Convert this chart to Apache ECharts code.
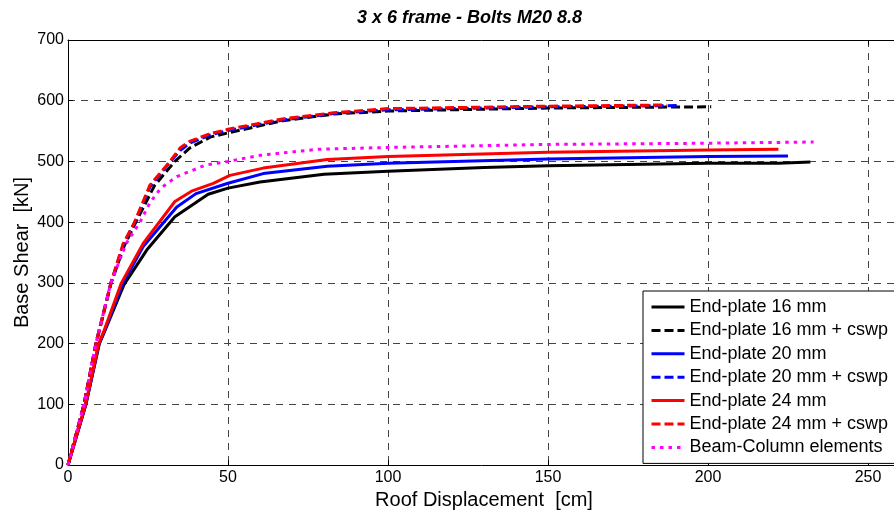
<!DOCTYPE html>
<html>
<head>
<meta charset="utf-8">
<script src="https://cdn.jsdelivr.net/npm/echarts@6.0.0/dist/echarts.min.js"></script>
<style>
  html, body { margin: 0; padding: 0; background: #fff; }
  #chart { width: 894px; height: 512px; }
</style>
</head>
<body>
<div id="chart"></div>
<script>
// roof displacement [cm] / base shear [kN]
const ep16X = [0, 5.6, 9.8, 11.6, 17.5, 24.6, 33.4, 43.8, 50, 60, 80, 100, 130, 150, 200, 222, 232];
const ep16Y = [0, 100, 200, 222, 297, 354, 409, 446, 456, 466, 479, 484, 490, 493, 497, 497, 499];

const ep16cX = [0, 5, 8.8, 13.5, 17.5, 21.2, 27, 33.4, 38, 44.4, 50, 67, 83, 100, 150, 201];
const ep16cY = [0, 100, 200, 300, 360, 400, 460, 500, 522, 540, 547, 567, 578, 583, 588, 590];

const ep20X = [0, 5.6, 9.7, 11.5, 17.1, 23.5, 34, 40, 50, 61, 81, 100, 150, 200, 225];
const ep20Y = [0, 100, 200, 222, 299, 360, 425, 447, 464, 480, 492, 497, 504, 508, 509];

const ep20cX = [0, 5, 8.7, 13.4, 17.3, 20.9, 25.6, 32, 35, 38, 44, 50, 60, 67, 83, 100, 150, 191];
const ep20cY = [0, 100, 200, 300, 363, 400, 458, 500, 518, 530, 543, 551, 561, 568, 579, 585, 590, 592];

const ep24X = [0, 5.5, 9.6, 11.4, 16.7, 23.5, 33.4, 38.6, 45.4, 50.6, 61, 81, 100, 150, 200, 222];
const ep24Y = [0, 100, 200, 223, 300, 365, 434, 451, 464, 477, 489, 503, 508, 515, 519, 520];

const ep24cX = [0, 5, 8.7, 13.4, 17.2, 20.8, 25.6, 31.9, 35, 38, 44, 50, 60, 67, 83, 100, 125, 150, 187];
const ep24cY = [0, 100, 200, 300, 364, 400, 461, 500, 522, 533, 545, 553, 563, 570, 580, 587, 589, 591, 593];

const bcX = [0, 5, 8.7, 13.4, 18.2, 22.5, 25.6, 29, 34, 43, 50, 60, 78, 100, 150, 200, 233];
const bcY = [0, 100, 200, 300, 365, 400, 432, 456, 475, 494, 500, 510, 520, 523, 528, 530, 532];

const seriesNames = [
  'End-plate 16 mm',
  'End-plate 16 mm + cswp',
  'End-plate 20 mm',
  'End-plate 20 mm + cswp',
  'End-plate 24 mm',
  'End-plate 24 mm + cswp',
  'Beam-Column elements'
];
const seriesX = [ep16X, ep16cX, ep20X, ep20cX, ep24X, ep24cX, bcX];
const seriesY = [ep16Y, ep16cY, ep20Y, ep20cY, ep24Y, ep24cY, bcY];
const seriesColors = ['#000000', '#000000', '#0000ff', '#0000ff', '#ff0000', '#ff0000', '#ff00ff'];
const seriesDash = ['solid', [9, 4], 'solid', [9, 4], 'solid', [9, 4], [3.5, 5]];

const font = 'Liberation Sans, Arial, sans-serif';
const gridDash = [7, 6];

const chart = echarts.init(document.getElementById('chart'));

const series = seriesNames.map((name, i) => ({
  name,
  type: 'line',
  data: seriesX[i].map((x, j) => [x, seriesY[i][j]]),
  symbol: 'none',
  showSymbol: false,
  clip: true,
  lineStyle: {
    color: seriesColors[i],
    width: 3,
    type: seriesDash[i],
    cap: 'butt',
    join: 'round'
  },
  itemStyle: { color: seriesColors[i] },
  z: 2 + i
}));

chart.setOption({
  animation: false,
  backgroundColor: '#fff',
  title: {
    text: '3 x 6 frame - Bolts M20 8.8',
    left: 357,
    top: 9,
    padding: 0,
    textStyle: {
      fontFamily: font,
      fontSize: 18,
      fontWeight: 'bold',
      fontStyle: 'italic',
      color: '#000'
    }
  },
  grid: {
    left: 68,
    right: -6,
    top: 40,
    bottom: 47,
    containLabel: false,
    outerBoundsMode: 'none'
  },
  legend: {
    orient: 'vertical',
    left: 643,
    top: 291,
    padding: [7, 24, 7, 7],
    itemWidth: 33,
    itemHeight: 14,
    itemGap: 5.4,
    backgroundColor: '#fff',
    borderColor: '#000',
    borderWidth: 1,
    borderRadius: 0,
    // hide the marker dot, keep the line sample
    itemStyle: { opacity: 0 },
    lineStyle: { width: 3 },
    data: seriesNames,
    textStyle: { fontFamily: font, fontSize: 18, color: '#000' }
  },
  xAxis: [
    {
      type: 'value',
      min: 0,
      max: 260,
      interval: 50,
      name: 'Roof Displacement  [cm]',
      nameLocation: 'middle',
      nameGap: 22,
      nameTextStyle: { fontFamily: font, fontSize: 20, color: '#000' },
      axisLine: { show: true, onZero: false, lineStyle: { color: '#000', width: 1 } },
      axisTick: { show: true, inside: true, length: 5, lineStyle: { color: '#000' } },
      axisLabel: {
        fontFamily: font,
        fontSize: 16,
        color: '#000',
        margin: 5,
        formatter: v => (v % 50 === 0 ? String(v) : '')
      },
      splitLine: { show: true, lineStyle: { color: '#444', width: 1, type: gridDash } }
    },
    {
      type: 'value',
      position: 'top',
      min: 0,
      max: 260,
      interval: 50,
      axisLine: { show: true, onZero: false, lineStyle: { color: '#000', width: 1 } },
      axisTick: { show: true, inside: true, length: 5, lineStyle: { color: '#000' } },
      axisLabel: { show: false },
      splitLine: { show: false }
    }
  ],
  yAxis: {
    type: 'value',
    min: 0,
    max: 700,
    interval: 100,
    name: 'Base Shear  [kN]',
    nameLocation: 'middle',
    nameGap: 36,
    nameMoveOverlap: false,
    nameRotate: 90,
    nameTextStyle: { fontFamily: font, fontSize: 20, color: '#000' },
    axisLine: { show: true, onZero: false, lineStyle: { color: '#000', width: 1 } },
    axisTick: { show: true, inside: true, length: 5, lineStyle: { color: '#000' } },
    axisLabel: { fontFamily: font, fontSize: 16, color: '#000', margin: 4 },
    splitLine: { show: true, lineStyle: { color: '#444', width: 1, type: gridDash } }
  },
  series
});
</script>
</body>
</html>
